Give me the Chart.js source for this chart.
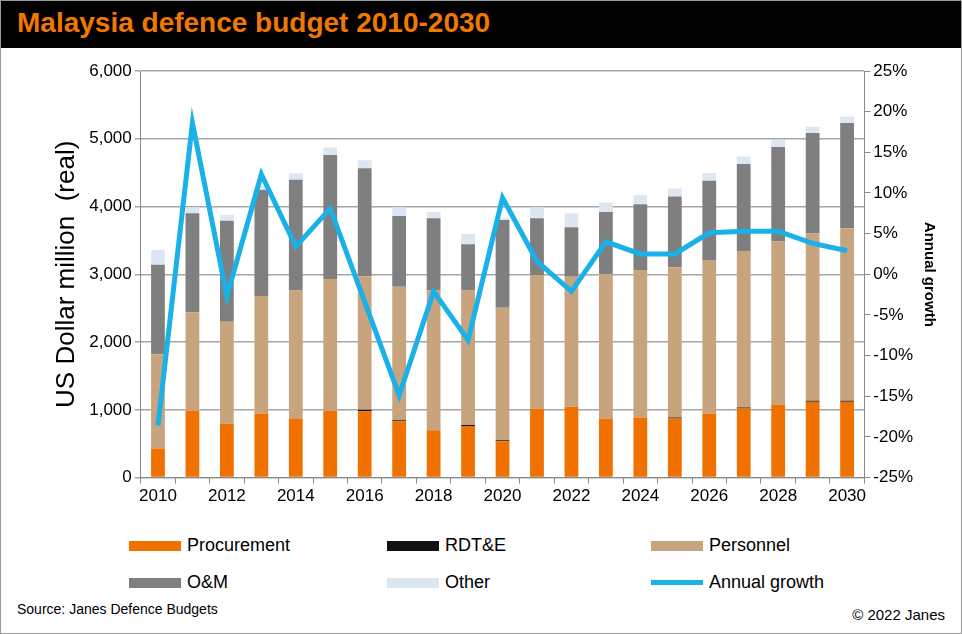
<!DOCTYPE html>
<html>
<head>
<meta charset="utf-8">
<script src="https://cdn.jsdelivr.net/npm/chart.js@4/dist/chart.umd.min.js"></script>
<style>
  body { margin: 0; background: #fff; font-family: "Liberation Sans", Arial, sans-serif; }
  #frame { position: relative; width: 960px; height: 632px; border: 1px solid #999; overflow: hidden; }
  #header { position: absolute; left: 0; top: 0; width: 960px; height: 47px; background: #000; }
  #header span { position: absolute; left: 16px; top: 6px; color: #f07800; font-weight: bold; font-size: 28px; }
  #wrap { position: absolute; left: 0; top: 50px; width: 960px; height: 470px; }
  .leg { position: absolute; font-size: 18px; color: #000; display: flex; align-items: center; }
  .leg i { display: inline-block; width: 52px; height: 10px; margin-right: 6px; }
  .foot { position: absolute; font-size: 14px; color: #000; }
</style>
</head>
<body>
<div id="frame">
  <div id="header"><span>Malaysia defence budget 2010-2030</span></div>
  <div id="wrap"><canvas id="chart"></canvas></div>
  <div class="leg" style="left:128px;top:534px"><i style="background:#f07000"></i>Procurement</div>
  <div class="leg" style="left:386px;top:534px"><i style="background:#111"></i>RDT&amp;E</div>
  <div class="leg" style="left:650px;top:534px"><i style="background:#c8a47e"></i>Personnel</div>
  <div class="leg" style="left:128px;top:571px"><i style="background:#7f7f7f"></i>O&amp;M</div>
  <div class="leg" style="left:386px;top:571px"><i style="background:#dde7f2"></i>Other</div>
  <div class="leg" style="left:650px;top:571px"><i style="background:#1ab0e8;height:5px"></i>Annual growth</div>
  <div class="foot" style="left:16px;top:600px">Source: Janes Defence Budgets</div>
  <div class="foot" style="right:16px;top:605px;font-size:15px">© 2022 Janes</div>
</div>
<script>
const years = ['2010','2011','2012','2013','2014','2015','2016','2017','2018','2019','2020',
               '2021','2022','2023','2024','2025','2026','2027','2028','2029','2030'];
const procurement = [430, 985, 793, 946, 872, 985, 980, 832, 700, 763, 537,
                     1020, 1044, 872, 887, 872, 946, 1020, 1079, 1118, 1118];
const rdte = [0, 0, 0, 0, 0, 0, 20, 15, 0, 15, 15, 0, 0, 0, 0, 15, 0, 15, 0, 15, 15];
const personnel = [1390, 1455, 1507, 1734, 1888, 1945, 1970, 1971, 2060, 1982, 1955,
                   1970, 1921, 2133, 2177, 2216, 2266, 2310, 2404, 2468, 2547];
const om = [1320, 1460, 1490, 1566, 1634, 1830, 1596, 1044, 1067, 683, 1296,
            838, 730, 916, 970, 1045, 1167, 1281, 1394, 1483, 1551];
const other = [220, 90, 90, 60, 96, 110, 118, 128, 94, 153, 30,
               162, 206, 138, 138, 118, 114, 113, 108, 93, 99];
const growth = [-18.6, 18.6, -2.7, 12.3, 3.4, 8.1, -3.4, -14.9, -2.1, -8.1, 9.4,
                1.6, -2.1, 4.0, 2.5, 2.5, 5.1, 5.3, 5.3, 3.8, 2.9];

const tickFont = { family: 'Liberation Sans', size: 17 };

function barSet(label, data, color) {
    return { type: 'bar', label: label, data: data, backgroundColor: color,
             stack: 's', yAxisID: 'y', order: 1, barPercentage: 0.4, categoryPercentage: 1 };
}

new Chart(document.getElementById('chart'), {
    data: {
        labels: years,
        datasets: [
            { type: 'line', label: 'Annual growth', data: growth, yAxisID: 'y1', order: 0,
              borderColor: '#1ab0e8', borderWidth: 5, pointRadius: 0, tension: 0 },
            barSet('Procurement', procurement, '#f07000'),
            barSet('RDT&E', rdte, '#111111'),
            barSet('Personnel', personnel, '#c8a47e'),
            barSet('O&M', om, '#7f7f7f'),
            barSet('Other', other, '#dde7f2')
        ]
    },
    options: {
        responsive: true,
        maintainAspectRatio: false,
        animation: false,
        layout: { padding: { left: 46, right: 19, top: 20, bottom: 11 } },
        plugins: { legend: { display: false }, tooltip: { enabled: false } },
        scales: {
            x: {
                stacked: true,
                grid: { display: true, drawOnChartArea: false, offset: true, color: '#888', tickLength: 6 },
                border: { color: '#888' },
                ticks: { color: '#000', font: tickFont, maxRotation: 0, autoSkip: false,
                         callback: function (v, i) { return i % 2 === 0 ? years[i] : ''; } }
            },
            y: {
                stacked: true,
                min: 0, max: 6000,
                ticks: { stepSize: 1000, color: '#000', font: tickFont,
                         callback: v => v.toLocaleString('en-US') },
                grid: { color: '#a6a6a6', lineWidth: 1.5, tickLength: 6 },
                border: { color: '#888' },
                title: { display: true, text: 'US Dollar million  (real)', color: '#000',
                         font: { family: 'Liberation Sans', size: 26 } }
            },
            y1: {
                position: 'right',
                min: -25, max: 25,
                ticks: { stepSize: 5, color: '#000', font: tickFont, callback: v => v + '%' },
                grid: { drawOnChartArea: false, color: '#888', tickLength: 6 },
                border: { color: '#888' },
                title: { display: true, text: 'Annual growth', color: '#000',
                         font: { family: 'Liberation Sans', size: 15, weight: 'bold' } }
            }
        }
    }
});
</script>
</body>
</html>
